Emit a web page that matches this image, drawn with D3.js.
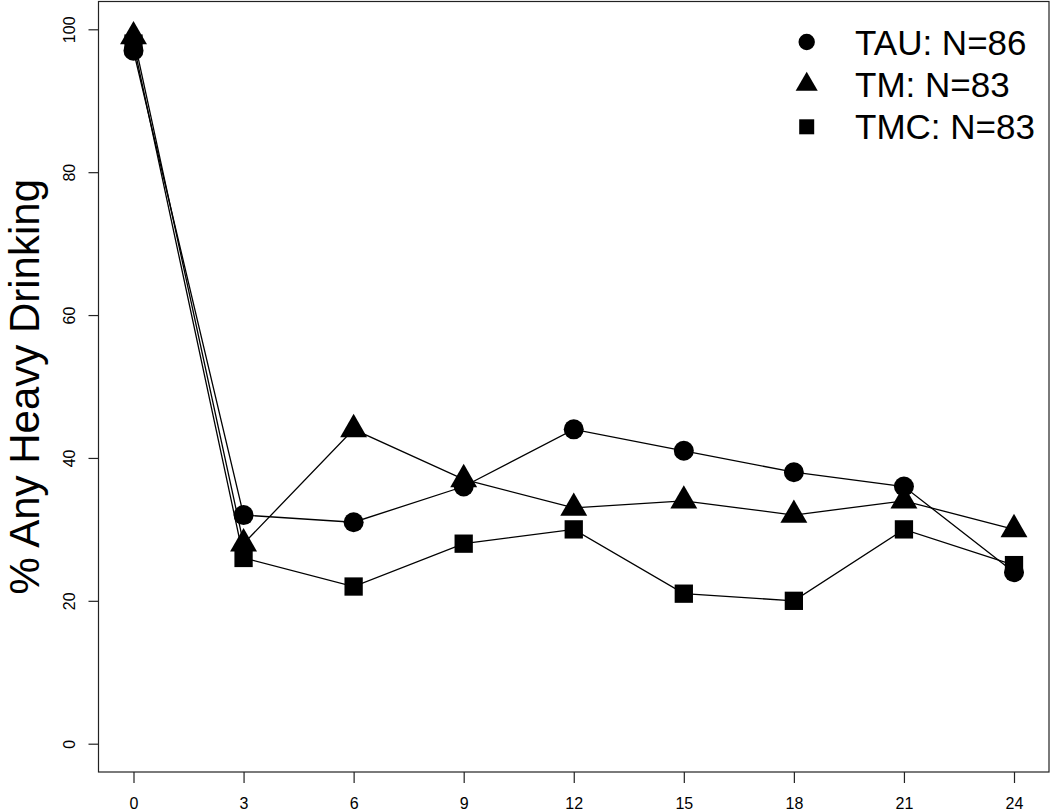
<!DOCTYPE html>
<html lang="en">
<head>
  <meta charset="UTF-8" />
  <title>% Any Heavy Drinking</title>
  <script src="https://d3js.org/d3.v7.min.js"></script>
  <style>
    html, body {
      margin: 0;
      padding: 0;
      background-color: white;
      overflow: hidden;
    }
    text {
      font-family: "Liberation Sans", Arial, Helvetica, sans-serif;
      fill: black;
    }
  </style>
</head>
<body>
  <svg id="chart" width="1050" height="811"></svg>

  <script>
    // data
    const months = [0, 3, 6, 9, 12, 15, 18, 21, 24];
    const tau = [97, 32, 31, 36, 44, 41, 38, 36, 24];
    const tm = [99, 28, 44, 37, 33, 34, 32, 34, 30];
    const tmc = [98, 26, 22, 28, 30, 21, 20, 30, 25];
    const seriesNames = ["TAU: N=86", "TM: N=83", "TMC: N=83"];
    const seriesShapes = ["circle", "triangle", "square"];
    const yTicks = [0, 20, 40, 60, 80, 100];
    const yLabel = "% Any Heavy Drinking";

    const box = { left: 98.5, top: 1.5, right: 1049, bottom: 772 };

    const svg = d3.select("#chart");

    const x = d3.scaleLinear().domain([0, 24]).range([133.5, 1014]);
    const y = d3.scaleLinear().domain([0, 100]).range([743.7, 29.3]);

    // R style pch shapes, a = size unit
    function shapePath(shape, cx, cy, a) {
      if (shape === "circle") {
        const p = d3.path();
        p.arc(cx, cy, a, 0, 2 * Math.PI);
        return p.toString();
      }
      if (shape === "triangle") {
        const r = 1.5551 * a, hw = 1.3468 * a, lo = 0.7776 * a;
        return `M${cx},${cy - r}L${cx + hw},${cy + lo}L${cx - hw},${cy + lo}Z`;
      }
      const h = a * 0.915;
      return `M${cx - h},${cy - h}H${cx + h}V${cy + h}H${cx - h}Z`;
    }

    // frame
    svg.append("rect")
      .attr("x", box.left)
      .attr("y", box.top)
      .attr("width", box.right - box.left)
      .attr("height", box.bottom - box.top)
      .attr("fill", "none")
      .attr("stroke", "#222")
      .attr("stroke-width", 1.2);

    // x axis
    const xAxis = svg.append("g")
      .attr("transform", `translate(0, ${box.bottom})`)
      .call(d3.axisBottom(x).tickValues(months).tickSize(11).tickPadding(15).tickFormat(d3.format("d")));
    xAxis.select(".domain").remove();
    xAxis.selectAll("line").attr("stroke", "#222").attr("stroke-width", 1.2);
    xAxis.selectAll("text")
      .style("font-size", "16px")
      .style("font-family", "'Liberation Sans', Arial, sans-serif")
      .attr("fill", "black");

    // y axis
    const yAxis = svg.append("g")
      .attr("transform", `translate(${box.left}, 0)`)
      .call(d3.axisLeft(y).tickValues(yTicks).tickSize(10).tickFormat(d3.format("d")));
    yAxis.select(".domain").remove();
    yAxis.selectAll("line").attr("stroke", "#222").attr("stroke-width", 1.2);
    yAxis.selectAll("text")
      .attr("x", 0)
      .attr("dy", 0)
      .attr("transform", "translate(-24, 0) rotate(-90)")
      .attr("text-anchor", "middle")
      .style("font-size", "16px")
      .style("font-family", "'Liberation Sans', Arial, sans-serif")
      .attr("fill", "black");

    // y label
    svg.append("text")
      .attr("transform", `translate(39, ${(box.top + box.bottom) / 2}) rotate(-90)`)
      .attr("text-anchor", "middle")
      .style("font-size", "42px")
      .text(yLabel);

    const allSeries = [tau, tm, tmc];
    const line = d3.line()
      .x((d, i) => x(months[i]))
      .y(d => y(d));

    allSeries.forEach((vals, si) => {
      svg.append("path")
        .datum(vals)
        .attr("d", line)
        .attr("fill", "none")
        .attr("stroke", "black")
        .attr("stroke-width", 1.3);

      svg.append("g")
        .selectAll("path")
        .data(vals)
        .join("path")
        .attr("d", (d, i) => shapePath(seriesShapes[si], x(months[i]), y(d), 10))
        .attr("fill", "black");
    });

    // legend
    const legend = svg.append("g");
    seriesNames.forEach((name, i) => {
      const ly = 42 + i * 42.4;
      legend.append("path")
        .attr("d", shapePath(seriesShapes[i], 806.7, ly, 8.2))
        .attr("fill", "black");
      legend.append("text")
        .attr("x", 855)
        .attr("y", ly)
        .attr("dy", "0.36em")
        .style("font-size", "35px")
        .text(name);
    });
  </script>
</body>
</html>
